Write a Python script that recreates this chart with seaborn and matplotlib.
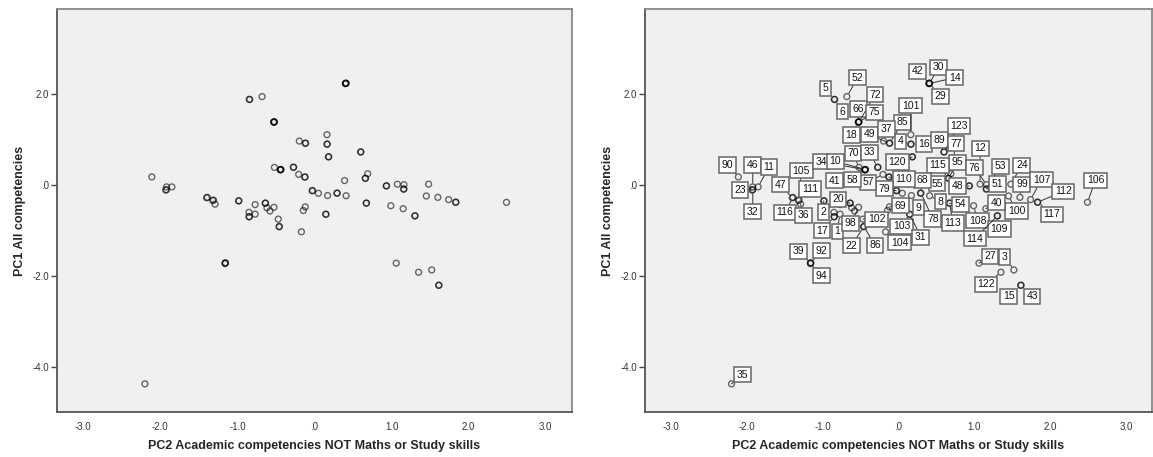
import matplotlib
matplotlib.use("Agg")
import matplotlib.pyplot as plt
import pandas as pd
import seaborn as sns

# Cases whose number is shown as a data label (case number, PC2 score, PC1 score)
case_no = [90, 46, 11, 23, 32, 47, 116, 105, 111, 36,
           2, 20, 17, 1, 98, 22, 86, 102, 39, 92,
           94, 5, 6, 52, 66, 72, 75, 18, 49, 85,
           37, 101, 4, 16, 120, 89, 123, 77, 95, 115,
           55, 8, 54, 113, 68, 78, 9, 103, 31, 104,
           110, 79, 69, 57, 70, 34, 10, 41, 58, 33,
           12, 76, 53, 51, 48, 24, 99, 100, 107, 112,
           117, 106, 40, 108, 109, 114, 27, 122, 3, 15,
           43, 35, 42, 30, 14, 29]
case_pc2 = [-2.11, -1.92, -1.85, -1.93, -1.92, -1.40, -1.39, -1.32, -1.31, -1.29,
            -0.985, -0.64, -0.85, -0.77, -0.526, -0.46, -0.455, -0.47, -1.16, -1.155,
            -1.16, -0.847, -0.84, -0.68, -0.526, -0.52, -0.525, -0.53, -0.12, -0.115,
            -0.197, 0.162, 0.162, 0.165, 0.18, 0.60, 0.60, 0.69, 0.66, 0.66,
            0.39, 0.41, 0.67, 0.675, 0.29, 0.295, 0.17, 0.145, 0.15, -0.17,
            -0.127, -0.03, -0.12, -0.205, -0.52, -0.44, -0.435, -0.445, -0.44, -0.275,
            1.075, 1.16, 1.155, 1.16, 0.93, 1.48, 1.60, 1.45, 1.74, 1.83,
            1.835, 2.49, 1.15, 0.99, 1.30, 1.305, 1.06, 1.35, 1.52, 1.61,
            1.615, -2.20, 0.405, 0.41, 0.40, 0.405]
case_pc1 = [0.18, -0.04, -0.04, -0.11, -0.10, -0.28, -0.27, -0.34, -0.33, -0.42,
            -0.35, -0.40, -0.70, -0.64, -0.49, -0.92, -0.91, -0.75, -1.72, -1.71,
            -1.73, 1.89, 1.885, 1.95, 1.39, 1.395, 1.385, 1.39, 0.92, 0.925,
            0.97, 1.11, 0.90, 0.905, 0.62, 0.73, 0.73, 0.25, 0.15, 0.15,
            0.10, -0.235, -0.40, -0.395, -0.18, -0.175, -0.23, -0.64, -0.645, -1.03,
            0.176, -0.125, -0.48, 0.235, 0.39, 0.34, 0.345, 0.335, 0.34, 0.39,
            0.02, 0.01, -0.09, -0.085, -0.02, 0.02, -0.27, -0.24, -0.32, -0.38,
            -0.375, -0.38, -0.52, -0.455, -0.68, -0.675, -1.72, -1.92, -1.87, -2.21,
            -2.205, -4.38, 2.24, 2.245, 2.235, 2.245]

# Cases plotted whose labels are hidden by neighbouring labels
other_pc2 = [-0.77, -0.617, -0.578, -0.85, -0.145, 0.05,
             -0.98, -0.635, -0.845, 0.185, -0.27, -0.122, -0.025, 0.935]
other_pc1 = [-0.43, -0.50, -0.57, -0.60, -0.56, -0.18,
             -0.345, -0.395, -0.695, 0.625, 0.395, 0.18, -0.12, -0.015]

x_title = "PC2 Academic competencies NOT Maths or Study skills"
y_title = "PC1 All competencies"
x_ticks = [-3.0, -2.0, -1.0, 0.0, 1.0, 2.0, 3.0]
x_tick_labels = ["-3.0", "-2.0", "-1.0", ".0", "1.0", "2.0", "3.0"]
y_ticks = [2.0, 0.0, -2.0, -4.0]
y_tick_labels = ["2.0", ".0", "-2.0", "-4.0"]

# Placement of each label box relative to its marker (pixels right, pixels up)
label_offset = {
    90: (-11, 12), 46: (0, 22), 11: (11, 20), 23: (-12, 0), 32: (0, -22),
    47: (-12, 13), 116: (-8, -15), 105: (3, 30), 111: (11, 11), 36: (3, -11),
    2: (0, -11), 20: (-12, 4), 17: (-12, -14), 1: (-3, -17), 98: (-8, -16),
    22: (-12, -19), 86: (11, -19), 102: (14, 0), 39: (-12, 12), 92: (11, 12),
    94: (11, -12), 5: (-9, 11), 6: (8, -12), 52: (11, 19), 66: (0, 13),
    72: (16, 27), 75: (16, 10), 18: (-7, -13), 49: (-20, 9), 85: (13, 21),
    37: (3, 12), 101: (0, 29), 4: (-10, 3), 16: (13, 0), 120: (-15, -5),
    89: (-5, 12), 123: (15, 26), 77: (5, 30), 95: (9, 16), 115: (-11, 13),
    55: (9, -3), 8: (11, -6), 54: (11, -1), 113: (3, -20), 68: (2, 13),
    78: (12, -26), 9: (7, -12), 103: (-8, -12), 31: (11, -23), 104: (14, -11),
    110: (15, -2), 79: (-12, 2), 69: (11, 1), 57: (-15, -8), 70: (-6, 14),
    34: (-44, 8), 10: (-30, 8), 41: (-30, -11), 58: (-13, -10), 33: (-8, 15),
    12: (0, 36), 76: (-12, 17), 53: (14, 23), 51: (11, 5), 48: (-12, 0),
    24: (11, 19), 99: (2, 13), 100: (8, -15), 107: (11, 20), 112: (26, 11),
    117: (14, -12), 106: (8, 22), 40: (11, 6), 108: (4, -15), 109: (2, -13),
    114: (-23, -23), 27: (11, 7), 122: (-15, -12), 3: (-9, 13), 15: (-12, -11),
    43: (11, -11), 35: (11, 9), 42: (-12, 12), 30: (9, 16), 14: (26, 6),
    29: (11, -13),
}

sns.set_theme(style="white")
plt.rcParams["font.family"] = ["Liberation Sans", "DejaVu Sans"]

scores = pd.DataFrame({
    "pc2": case_pc2 + other_pc2,
    "pc1": case_pc1 + other_pc1,
})

fig = plt.figure(figsize=(11.53, 4.57), dpi=100)
ax_left = fig.add_axes([57 / 1153, 45 / 457, 515 / 1153, 403 / 457])
ax_right = fig.add_axes([645 / 1153, 45 / 457, 507 / 1153, 403 / 457])

PX = 72 / 100  # one pixel in points

for ax in (ax_left, ax_right):
    ax.set_facecolor("#f0f0f0")
    sns.scatterplot(data=scores, x="pc2", y="pc1", ax=ax, marker="o",
                    s=18, linewidth=1.0, legend=False, zorder=2)
    dots = ax.collections[-1]
    dots.set_facecolor("none")
    dots.set_edgecolor((0, 0, 0, 0.58))
    dots.set_linewidth(1.0)

    ax.set_xlim(-3.34, 3.34)
    ax.set_ylim(-5.0, 3.88)
    ax.set_xticks(x_ticks)
    ax.set_xticklabels(x_tick_labels)
    ax.set_yticks(y_ticks)
    ax.set_yticklabels(y_tick_labels)
    ax.tick_params(axis="x", length=0, pad=7, labelsize=7, labelcolor="#333333")
    ax.tick_params(axis="y", length=4, width=1, color="#444444", pad=1.5,
                   labelsize=7, labelcolor="#333333", left=True)
    for side in ("left", "bottom", "top", "right"):
        ax.spines[side].set_color("#555555")
        ax.spines[side].set_linewidth(1.3)
    ax.spines["top"].set_color("#888888")
    ax.spines["right"].set_color("#888888")
    ax.set_xlabel(x_title, fontsize=9, fontweight="bold", labelpad=6)
    ax.set_ylabel(y_title, fontsize=9, fontweight="bold", labelpad=5)

# Case-number labels with leader lines on the right-hand panel
for num, x, y in zip(case_no, case_pc2, case_pc1):
    dx, dy = label_offset[num]
    ax_right.annotate(
        str(num), xy=(x, y), xytext=(dx * PX, dy * PX),
        textcoords="offset points", ha="center", va="center",
        fontsize=7.5, color="#111111", zorder=4,
        bbox=dict(boxstyle="square,pad=0.25", fc="white", ec="#666666", lw=1.1),
        arrowprops=dict(arrowstyle="-", color="#333333", lw=0.7,
                        shrinkA=0, shrinkB=2.8),
    )

fig.savefig("out.png", dpi=100)
